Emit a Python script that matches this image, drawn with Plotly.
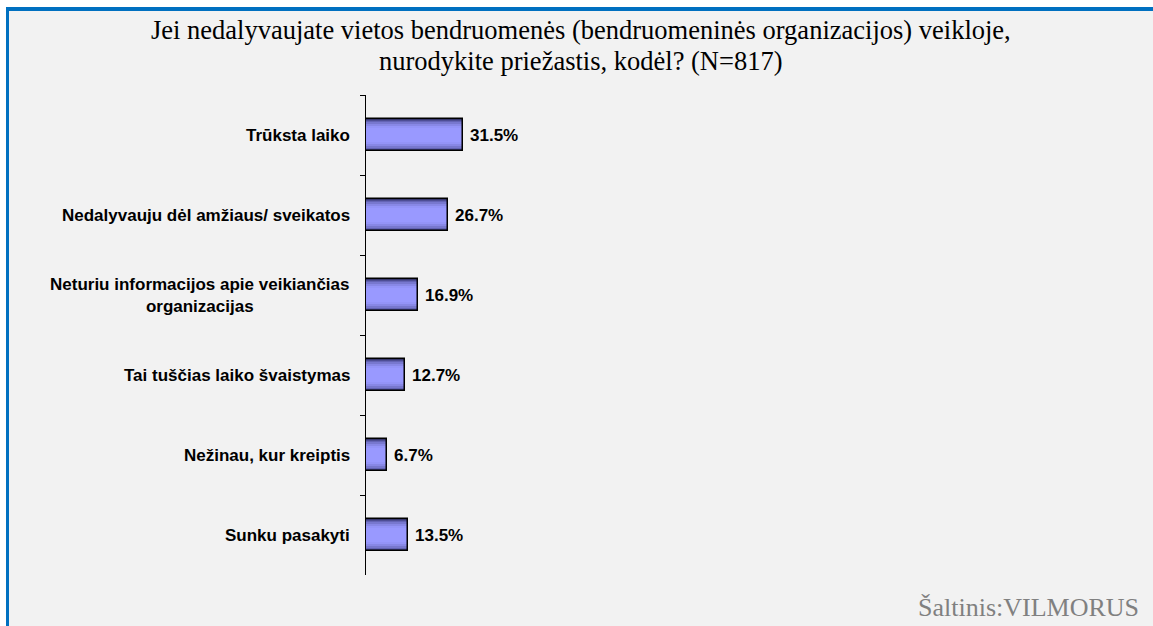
import plotly.graph_objects as go

categories = [
    "Trūksta laiko",
    "Nedalyvauju dėl amžiaus/ sveikatos",
    "Neturiu informacijos apie veikiančias<br>organizacijas",
    "Tai tuščias laiko švaistymas",
    "Nežinau, kur kreiptis",
    "Sunku pasakyti",
]
values = [31.5, 26.7, 16.9, 12.7, 6.7, 13.5]
value_labels = ["31.5%", "26.7%", "16.9%", "12.7%", "6.7%", "13.5%"]
title_lines = [
    "Jei nedalyvaujate vietos bendruomenės (bendruomeninės organizacijos) veikloje,",
    "nurodykite priežastis, kodėl? (N=817)",
]
source_text = "Šaltinis:VILMORUS"

W, H = 1153, 626
ML, MR, MT, MB = 366, 479, 95, 51
PW, PH = W - ML - MR, H - MT - MB

def px_x(p):
    return (p - ML) / PW

def px_y(p):
    return (H - MB - p) / PH

SANS = "Arial, Liberation Sans, sans-serif"
SERIF = "Times New Roman, Liberation Serif, serif"

bar_w = 0.41
layers = [
    (1.00, "#383870"),
    (0.93, "#4E4E95"),
    (0.86, "#6464B5"),
    (0.78, "#7878CF"),
    (0.68, "#8888E6"),
    (0.56, "#9494F8"),
    (0.44, "#9999FF"),
]

fig = go.Figure()
for frac, col in layers:
    fig.add_trace(go.Bar(
        y=categories, x=values, orientation="h",
        width=bar_w * frac,
        marker=dict(color=col, line=dict(width=0)),
        hoverinfo="skip", showlegend=False,
    ))
# outline on top
fig.add_trace(go.Bar(
    y=categories, x=values, orientation="h",
    width=bar_w,
    marker=dict(color="rgba(0,0,0,0)", line=dict(color="black", width=1.5)),
    hoverinfo="skip", showlegend=False,
))

annotations = []
for c in categories:
    annotations.append(dict(
        x=0, xref="paper", y=c, yref="y", text="<b>%s</b>" % c,
        xanchor="right", yanchor="middle", xshift=-14, align="center",
        showarrow=False, font=dict(family=SANS, size=17, color="black"),
    ))
for c, v, lab in zip(categories, values, value_labels):
    annotations.append(dict(
        x=v, xref="x", y=c, yref="y", text="<b>%s</b>" % lab,
        xanchor="left", yanchor="middle", xshift=5,
        showarrow=False, font=dict(family=SANS, size=17, color="black"),
    ))
for line, ypx in zip(title_lines, [30, 61]):
    annotations.append(dict(
        x=px_x(581), xref="paper", y=px_y(ypx), yref="paper", text=line,
        xanchor="center", yanchor="middle", align="center", showarrow=False,
        font=dict(family=SERIF, size=26.5, color="black"),
    ))
annotations.append(dict(
    x=px_x(1141), xref="paper", y=px_y(607), yref="paper", text=source_text,
    xanchor="right", yanchor="middle", showarrow=False,
    font=dict(family=SERIF, size=26, color="#808080"),
))

shapes = [
    dict(type="rect", xref="paper", yref="paper", layer="below",
         x0=px_x(6), x1=px_x(W + 10), y0=px_y(7), y1=px_y(H + 10),
         fillcolor="#0070C0", line=dict(width=0)),
    dict(type="rect", xref="paper", yref="paper", layer="below",
         x0=px_x(9), x1=px_x(W + 10), y0=px_y(11), y1=px_y(H + 10),
         fillcolor="#F2F2F2", line=dict(width=0)),
]

fig.update_layout(
    width=W, height=H,
    margin=dict(l=ML, r=MR, t=MT, b=MB),
    paper_bgcolor="white", plot_bgcolor="rgba(0,0,0,0)",
    barmode="overlay", bargap=0,
    annotations=annotations, shapes=shapes,
    xaxis=dict(visible=False, range=[0, 100], fixedrange=True),
    yaxis=dict(
        type="category", categoryorder="array", categoryarray=categories,
        autorange="reversed", showticklabels=False, showgrid=False,
        zeroline=False, showline=True, linecolor="black", linewidth=1,
        ticks="outside", tickson="boundaries", ticklen=5, tickcolor="black",
        tickwidth=1, fixedrange=True,
    ),
)

fig.write_html(
    "out.html",
    config={"displayModeBar": False},
    post_script="document.body.style.margin='0';document.body.style.overflow='hidden';",
)
